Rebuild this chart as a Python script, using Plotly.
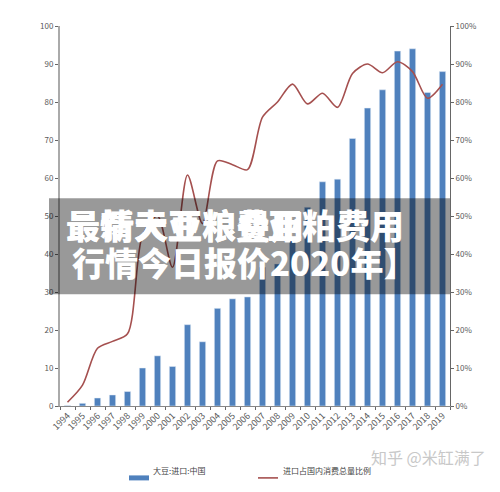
import plotly.graph_objects as go

years = [str(y) for y in range(1994, 2020)]
imports = [0.1, 0.7, 2.1, 2.9, 3.8, 10.0, 13.2, 10.4, 21.4, 16.9, 25.7, 28.2, 28.7,
           36.5, 37.4, 44.5, 52.3, 59.0, 59.7, 70.4, 78.4, 83.2, 93.4, 94.0, 82.5, 88.0]
share = [1.0, 5.5, 15.2, 17.0, 19.0, 45.0, 50.0, 36.5, 60.8, 48.0, 64.5, 63.5, 62.2,
         76.0, 80.0, 84.7, 79.5, 82.3, 78.6, 87.5, 90.0, 87.7, 90.6, 88.0, 81.0, 84.7]
y_ticks = [0, 10, 20, 30, 40, 50, 60, 70, 80, 90, 100]
share_ticks = [0, 10, 20, 30, 40, 50, 60, 70, 80, 90, 100]
share_labels = [f"{v}%" for v in share_ticks]
bar_name = "大豆:进口:中国"
line_name = "进口占国内消费总量比例"
title_a1 = "最新大豆粮费用"
title_a2 = "最情天亚粮叠用"
title_b = "亚粕费用"
title_2 = "行情今日报价2020年】"
watermark = "知乎 @米缸满了"

FONT = "Noto Sans CJK SC"
BAR_COLOR = "#4f81bd"
LINE_COLOR = "#a5504f"
W, H = 500, 492
L, R, T, B = 60, 50, 25.5, 86


def px(x):
    return (x - L) / (W - L - R)


def py(y):
    return (H - B - y) / (H - T - B)


fig = go.Figure()
fig.add_trace(go.Bar(x=years, y=imports, name=bar_name, marker_color=BAR_COLOR, width=0.42))
fig.add_trace(go.Scatter(x=years, y=share, name=line_name, yaxis="y2", mode="lines",
                         line=dict(color=LINE_COLOR, width=1.6, shape="spline", smoothing=0.8)))

fig.update_layout(
    width=W, height=H, autosize=False, showlegend=False,
    margin=dict(l=L, r=R, t=T, b=B),
    paper_bgcolor="white", plot_bgcolor="white",
    font=dict(family=FONT, size=8, color="#595959"),
    xaxis=dict(type="category", tickangle=-45, tickson="boundaries", ticks="outside", ticklen=3,
               tickcolor="#666", showline=True, linecolor="#888", linewidth=1, showgrid=False,
               tickfont=dict(size=9)),
    yaxis=dict(range=[0, 100], tickvals=y_ticks, ticks="outside", ticklen=3, tickcolor="#666",
               showline=True, linecolor="#aaa", linewidth=2, showgrid=False, zeroline=False),
    yaxis2=dict(range=[0, 100], overlaying="y", side="right", tickvals=share_ticks,
                ticktext=share_labels, ticks="outside", ticklen=3, tickcolor="#666",
                showline=True, linecolor="#666", linewidth=1, showgrid=False, zeroline=False),
)

# legend keys, plotly's own bar key is too small here
fig.add_shape(type="rect", xref="paper", yref="paper", x0=px(129), x1=px(149), y0=py(480.5), y1=py(475.5),
              fillcolor=BAR_COLOR, line_width=0)
fig.add_shape(type="line", xref="paper", yref="paper", x0=px(258), x1=px(278), y0=py(478), y1=py(478),
              line=dict(color=LINE_COLOR, width=1.6))
for name, xp in [(bar_name, 151), (line_name, 281)]:
    fig.add_annotation(text=name, xref="paper", yref="paper", x=px(xp), y=py(478), xanchor="left",
                       showarrow=False, font=dict(family=FONT, size=8, color="#444"))

# grey title band sits on top of the chart
fig.add_shape(type="rect", xref="paper", yref="paper", x0=px(49), x1=px(450), y0=py(294), y1=py(198),
              fillcolor="rgba(0,0,0,0.4)", line_width=0, layer="above")

# first title line is two strings printed over each other
for text, xp, anchor in [(title_a1, 64, "left"), (title_a2, 64, "left"), (title_b, 406, "right")]:
    fig.add_annotation(text=text, xref="paper", yref="paper", x=px(xp), y=py(224), xanchor=anchor,
                       showarrow=False, font=dict(family=FONT, size=34, color="white", weight=900))
fig.add_annotation(text=title_2, xref="paper", yref="paper", x=px(70), y=py(262), xanchor="left",
                   showarrow=False, font=dict(family=FONT, size=33, color="white", weight=900))

fig.add_annotation(text=watermark, xref="paper", yref="paper", x=px(488), y=py(471), xanchor="right",
                   showarrow=False, font=dict(family=FONT, size=16, color="#c8c8c8"))

# page default margin would push the chart 8px off
fig.write_html("out.html", config={"displayModeBar": False},
               post_script="document.body.style.margin='0';")
